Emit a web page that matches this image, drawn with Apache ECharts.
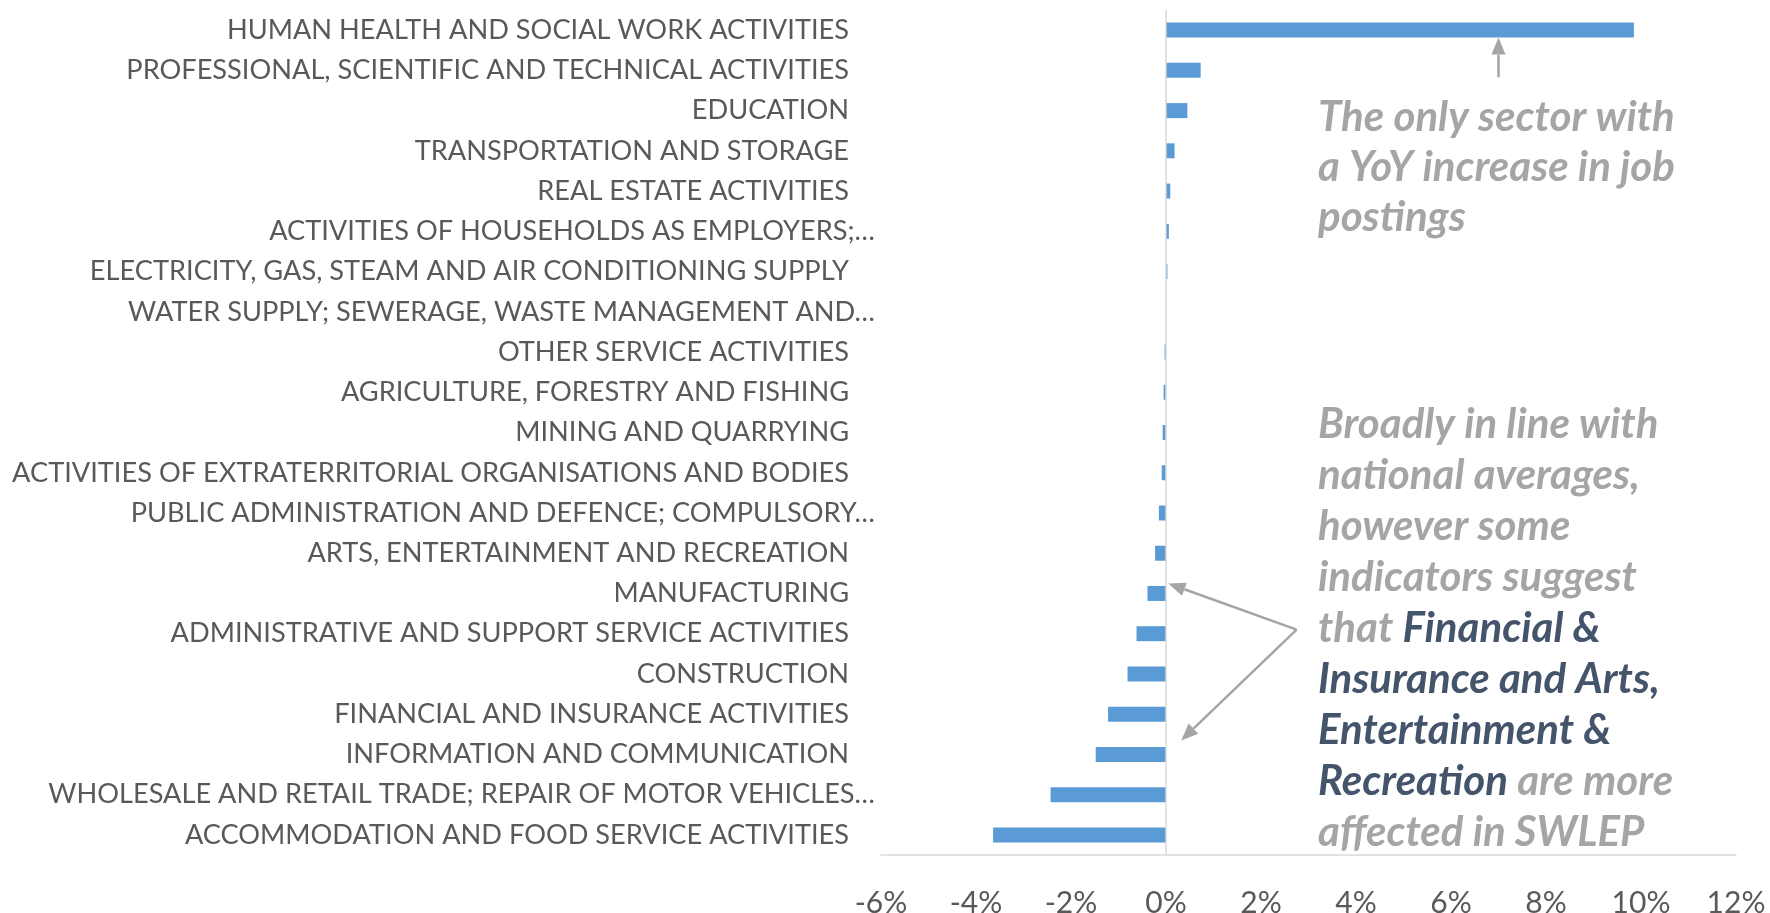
<!DOCTYPE html>
<html><head><meta charset="utf-8">
<script src="https://cdn.jsdelivr.net/npm/echarts@6/dist/echarts.min.js"></script>
<style>html,body{margin:0;padding:0;background:#fff}#c{width:1770px;height:913px}</style>
</head><body><div id="c"></div>
<script>
// Categories from top to bottom
const categories = [
  "HUMAN HEALTH AND SOCIAL WORK ACTIVITIES",
  "PROFESSIONAL, SCIENTIFIC AND TECHNICAL ACTIVITIES",
  "EDUCATION",
  "TRANSPORTATION AND STORAGE",
  "REAL ESTATE ACTIVITIES",
  "ACTIVITIES OF HOUSEHOLDS AS EMPLOYERS;…",
  "ELECTRICITY, GAS, STEAM AND AIR CONDITIONING SUPPLY",
  "WATER SUPPLY; SEWERAGE, WASTE MANAGEMENT AND…",
  "OTHER SERVICE ACTIVITIES",
  "AGRICULTURE, FORESTRY AND FISHING",
  "MINING AND QUARRYING",
  "ACTIVITIES OF EXTRATERRITORIAL ORGANISATIONS AND BODIES",
  "PUBLIC ADMINISTRATION AND DEFENCE; COMPULSORY…",
  "ARTS, ENTERTAINMENT AND RECREATION",
  "MANUFACTURING",
  "ADMINISTRATIVE AND SUPPORT SERVICE ACTIVITIES",
  "CONSTRUCTION",
  "FINANCIAL AND INSURANCE ACTIVITIES",
  "INFORMATION AND COMMUNICATION",
  "WHOLESALE AND RETAIL TRADE; REPAIR OF MOTOR VEHICLES…",
  "ACCOMMODATION AND FOOD SERVICE ACTIVITIES"
];
// YoY change in job postings (%)
const values = [
  9.85, 0.73, 0.45, 0.18, 0.09, 0.06, 0.03, 0.0,
  -0.03, -0.05, -0.07, -0.09, -0.15, -0.23, -0.39,
  -0.62, -0.81, -1.22, -1.48, -2.43, -3.64
];
const xMin = -6, xMax = 12, xStep = 2;

const note1 = ["The only sector with", "a YoY increase in job", "postings"];
const note2 = [
  [["g", "Broadly in line with"]],
  [["g", "national averages,"]],
  [["g", "however some"]],
  [["g", "indicators suggest"]],
  [["g", "that "], ["d", "Financial &"]],
  [["d", "Insurance and Arts,"]],
  [["d", "Entertainment &"]],
  [["d", "Recreation"], ["g", " are more"]],
  [["g", "affected in SWLEP"]]
];

const FONT = "Lato";
const GREY = "#A5A5A5";
const DARK = "#44546A";

const chart = echarts.init(document.getElementById('c'), null, {renderer: 'canvas'});

const option = {
  animation: false,
  backgroundColor: '#ffffff',
  grid: {left: 881, right: 34, top: 10, bottom: 58, containLabel: false, outerBoundsMode: 'none'},
  xAxis: {
    type: 'value', min: xMin, max: xMax, interval: xStep,
    axisLine: {show: true, lineStyle: {color: '#D9D9D9', width: 1.5}},
    axisTick: {show: false},
    splitLine: {show: false},
    axisLabel: {
      formatter: v => v + '%', color: '#595959', fontFamily: FONT, fontSize: 30, margin: 33
    }
  },
  yAxis: {
    type: 'category', data: categories, inverse: true,
    axisLine: {show: false, onZero: false},
    axisTick: {show: false},
    axisLabel: {
      margin: 6,
      formatter: v => v.endsWith('…') ? '{b|' + v + '}' : '{a|' + v + '}',
      rich: {
        a: {color: '#595959', fontFamily: FONT, fontSize: 27.2, padding: [0, 26, 0, 0]},
        b: {color: '#595959', fontFamily: FONT, fontSize: 27.2}
      }
    }
  },
  series: [{
    type: 'bar', data: values, barWidth: 15,
    itemStyle: {color: '#5B9BD5'},
    markLine: {
      silent: true, symbol: 'none', label: {show: false},
      lineStyle: {color: '#D9D9D9', width: 1.5, type: 'solid'},
      data: [{xAxis: 0}]
    }
  }]
};
chart.setOption(option);

function px(x, cat) { return chart.convertToPixel({gridIndex: 0}, [x, cat]); }
function arrow(p1, p2) {
  const dx = p2[0] - p1[0], dy = p2[1] - p1[1];
  const L = Math.sqrt(dx * dx + dy * dy), ux = dx / L, uy = dy / L;
  const hl = 17, hw = 7;
  const bx = p2[0] - ux * hl, by = p2[1] - uy * hl;
  return [
    {type: 'line', silent: true, shape: {x1: p1[0], y1: p1[1], x2: bx, y2: by},
     style: {stroke: GREY, lineWidth: 2.5}},
    {type: 'polygon', silent: true,
     shape: {points: [[p2[0], p2[1]], [bx - uy * hw, by + ux * hw], [bx + uy * hw, by - ux * hw]]},
     style: {fill: GREY}}
  ];
}

const bw = option.series[0].barWidth;
// Arrow 1: from below the top bar up to its bottom edge, at 7%
const a1tip = px(7, categories[0]); a1tip[1] += bw / 2;
const a1tail = px(7, categories[1]); a1tail[1] += 7;
// Arrows 2: from the second note towards the Manufacturing and Information rows
const origin = px(2.75, categories[15]); origin[1] -= 4;
const tipA = px(0.05, categories[14]); tipA[1] -= 10;
const tipB = px(0.32, categories[18]); tipB[1] -= 14;

const noteX = px(3.2, categories[0])[0];
const t1Top = px(0, categories[2])[1] - 18;
const t2Top = px(0, categories[10])[1] - 34;

const st = (fill, lh) => ({fontFamily: FONT, fontSize: 42, fontWeight: 'bold', fontStyle: 'italic', fill: fill, lineHeight: lh});
const rich1 = {g: st(GREY, 50), d: st(DARK, 50)};
const rich2 = {g: st(GREY, 51), d: st(DARK, 51)};
const t1 = note1.map(s => '{g|' + s + '}').join('\n');
const t2 = note2.map(line => line.map(([k, s]) => '{' + k + '|' + s + '}').join('')).join('\n');

chart.setOption({
  graphic: [
    ...arrow(a1tail, a1tip),
    ...arrow(origin, tipA),
    ...arrow(origin, tipB),
    {type: 'text', silent: true, x: noteX, y: t1Top,
     style: {text: t1, rich: rich1, x: 0, y: 0, textAlign: 'left', textVerticalAlign: 'top'}},
    {type: 'text', silent: true, x: noteX, y: t2Top,
     style: {text: t2, rich: rich2, x: 0, y: 0, textAlign: 'left', textVerticalAlign: 'top'}}
  ]
});
</script></body></html>
